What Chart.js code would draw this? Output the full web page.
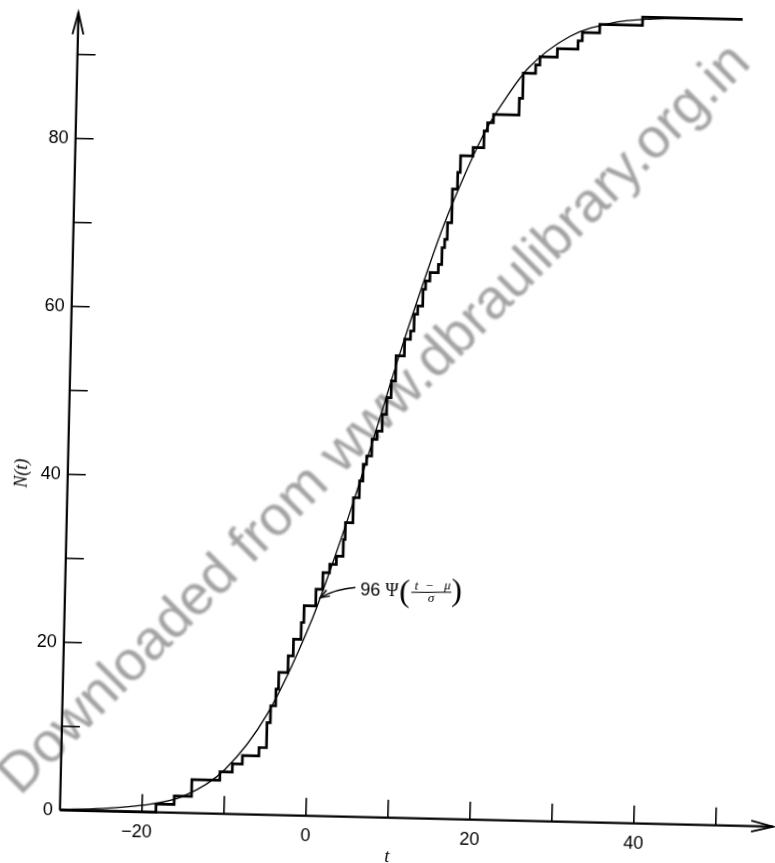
<!DOCTYPE html>
<html>
<head>
<meta charset="utf-8">
<title>N(t)</title>
<script src="https://cdn.jsdelivr.net/npm/chart.js"></script>
<style>
    html, body {
        margin: 0;
        padding: 0;
        width: 775px;
        height: 863px;
        overflow: hidden;
        background: #fff;
    }
    /* the printed page sits slightly skewed */
    .sheet {
        position: absolute;
        left: -10px;
        top: -10px;
        width: 800px;
        height: 885px;
        transform: rotate(1.33deg);
        transform-origin: 50% 50%;
    }
</style>
</head>
<body>
<div class="sheet"><canvas id="cdf" width="800" height="885"></canvas></div>

<script>
    // cumulative count N(t): time of each jump and the level reached after it
    const stepT = [-30, -18.3, -16.1, -14.0, -10.6, -9.1, -7.9, -5.9, -5.0, -4.6,
                   -4.0, -3.7, -2.6, -2.0, -1.1, -0.8, 0.6, 1.4, 2.2, 3.0,
                   3.8, 4.0, 4.9, 5.6, 6.0, 6.4, 7.0, 7.6, 8.2, 8.7,
                   9.2, 9.7, 10.7, 11.4, 11.8, 12.2, 12.8, 13.1, 13.6, 14.6,
                   15.0, 15.3, 15.6, 16.1, 16.7, 17.0, 18.5, 19.8, 20.2, 20.9,
                   24.0, 24.4, 25.9, 26.4, 28.5, 31.0, 31.5, 33.6, 38.8, 51];
    const stepN = [0, 1, 2, 4, 5, 6, 7, 8, 11, 13,
                   15, 17, 19, 21, 23, 25, 27, 29, 30, 31,
                   33, 35, 38, 40, 42, 43, 45, 46, 48, 50,
                   52, 55, 57, 58, 60, 61, 63, 64, 65, 66,
                   68, 69, 71, 75, 77, 79, 80, 82, 83, 84,
                   86, 89, 90, 91, 92, 93, 94, 95, 96, 96];

    // smooth fitted curve 96 Ψ((t − μ)/σ)
    const curveT = [-30, -25, -20, -15, -10, -5, 0, 2.5, 5, 7.5, 10, 12.5,
                    15, 17.5, 20, 22.5, 25, 30, 35, 40, 45, 51];
    const curveN = [0.1, 0.3, 0.8, 2.0, 5.3, 12.0, 22.9, 30.0, 37.8, 46.2, 54.8, 62.8,
                    70.3, 76.6, 82.1, 86.2, 89.6, 93.5, 95.2, 95.8, 96.0, 96.0];

    const xTickMarks = [-20, -10, 0, 10, 20, 30, 40, 50];
    const xTickLabels = [-20, 0, 20, 40];
    const yTickMarks = [10, 20, 30, 40, 50, 60, 70, 80, 90];
    const yTickLabels = [0, 20, 40, 60, 80];

    const X_MIN = -30, X_MAX = 57;
    const Y_MIN = 0, Y_MAX = 95;

    // where the curve label's arrow lands
    const annoT = 1.0, annoN = 26;

    const NUM_FONT = '"Liberation Sans", Arial, sans-serif';
    const MATH_FONT = '"Liberation Serif", "DejaVu Serif", serif';

    // background stamp
    const stamp = {
        id: 'stamp',
        beforeDatasetsDraw(chart) {
            const ctx = chart.ctx;
            ctx.save();
            ctx.translate(385, 430);
            ctx.rotate(-46.3 * Math.PI / 180);
            ctx.filter = 'blur(1.2px)';
            ctx.fillStyle = '#a2a2a2';
            ctx.font = '56px ' + NUM_FONT;
            ctx.textAlign = 'center';
            ctx.textBaseline = 'middle';
            ctx.fillText('Downloaded from www.dbraulibrary.org.in', 0, 0);
            ctx.restore();
        }
    };

    // axes with arrow heads and inward tick marks
    const axes = {
        id: 'axes',
        afterDatasetsDraw(chart) {
            const { ctx, scales: { x, y } } = chart;
            const x0 = x.getPixelForValue(X_MIN);
            const x1 = x.getPixelForValue(X_MAX);
            const y0 = y.getPixelForValue(Y_MIN);
            const y1 = y.getPixelForValue(Y_MAX);
            ctx.save();
            ctx.strokeStyle = '#000';
            ctx.lineCap = 'butt';

            ctx.lineWidth = 2.2;
            ctx.beginPath();
            ctx.moveTo(x0, y0);
            ctx.lineTo(x1, y0);
            ctx.moveTo(x0, y0);
            ctx.lineTo(x0, y1);
            ctx.stroke();

            // arrow heads
            ctx.lineWidth = 1.8;
            ctx.beginPath();
            ctx.moveTo(x0 - 5.5, y1 + 22);
            ctx.lineTo(x0, y1);
            ctx.lineTo(x0 + 5.5, y1 + 22);
            ctx.moveTo(x1 - 22, y0 - 5.5);
            ctx.lineTo(x1, y0);
            ctx.lineTo(x1 - 22, y0 + 5.5);
            ctx.stroke();

            // tick marks
            ctx.lineWidth = 1.6;
            ctx.beginPath();
            xTickMarks.forEach(v => {
                const px = x.getPixelForValue(v);
                ctx.moveTo(px, y0);
                ctx.lineTo(px, y0 - 18);
            });
            yTickMarks.forEach(v => {
                const py = y.getPixelForValue(v);
                ctx.moveTo(x0, py);
                ctx.lineTo(x0 + 18, py);
            });
            ctx.stroke();

            // axis names
            ctx.fillStyle = '#000';
            ctx.font = 'italic 18px ' + MATH_FONT;
            ctx.textAlign = 'center';
            ctx.textBaseline = 'middle';
            ctx.save();
            ctx.translate(x0 - 46, y.getPixelForValue(40));
            ctx.rotate(-Math.PI / 2);
            ctx.fillText('N(t)', 0, 0);
            ctx.restore();
            ctx.textBaseline = 'alphabetic';
            ctx.fillText('t', x.getPixelForValue(10), y0 + 44);
            ctx.restore();
        }
    };

    // label of the fitted curve with its leader arrow
    const curveLabel = {
        id: 'curveLabel',
        afterDatasetsDraw(chart) {
            const { ctx, scales: { x, y } } = chart;
            const px = x.getPixelForValue(annoT);
            const py = y.getPixelForValue(annoN);
            ctx.save();
            ctx.strokeStyle = '#000';
            ctx.fillStyle = '#000';
            ctx.lineWidth = 1.4;

            const cx = px + 16, cy = py - 9;
            ctx.beginPath();
            ctx.moveTo(px + 36, py - 11);
            ctx.quadraticCurveTo(cx, cy, px + 1, py);
            ctx.stroke();
            const a = Math.atan2(py - cy, px + 1 - cx);
            ctx.beginPath();
            ctx.moveTo(px + 1 - 10 * Math.cos(a - 0.35), py - 10 * Math.sin(a - 0.35));
            ctx.lineTo(px + 1, py);
            ctx.lineTo(px + 1 - 10 * Math.cos(a + 0.35), py - 10 * Math.sin(a + 0.35));
            ctx.stroke();

            ctx.textBaseline = 'alphabetic';
            ctx.textAlign = 'left';
            ctx.font = '18px ' + NUM_FONT;
            ctx.fillText('96', px + 41, py - 3);
            ctx.font = '18px ' + MATH_FONT;
            ctx.fillText('\u03A8', px + 66, py - 3.5);

            ctx.font = '32px ' + MATH_FONT;
            ctx.textBaseline = 'middle';
            ctx.fillText('(', px + 80, py - 7);
            ctx.fillText(')', px + 132, py - 9);

            ctx.textAlign = 'center';
            ctx.textBaseline = 'alphabetic';
            ctx.font = 'italic 13px ' + MATH_FONT;
            ctx.fillText('t', px + 97, py - 10.5);
            ctx.fillText('\u2212', px + 110, py - 10.5);
            ctx.fillText('\u03BC', px + 128, py - 11);
            ctx.fillText('\u03C3', px + 112, py + 2);
            ctx.lineWidth = 1;
            ctx.beginPath();
            ctx.moveTo(px + 92, py - 7.5);
            ctx.lineTo(px + 132, py - 8.5);
            ctx.stroke();
            ctx.restore();
        }
    };

    const ctx = document.getElementById('cdf').getContext('2d');
    new Chart(ctx, {
        type: 'line',
        data: {
            datasets: [{
                data: stepT.map((t, i) => ({ x: t, y: stepN[i] })),
                stepped: true,
                borderColor: '#000',
                borderWidth: 2.7,
                pointRadius: 0,
                fill: false,
                clip: false
            }, {
                data: curveT.map((t, i) => ({ x: t, y: curveN[i] })),
                cubicInterpolationMode: 'monotone',
                borderColor: '#000',
                borderWidth: 1.3,
                pointRadius: 0,
                fill: false,
                clip: false
            }]
        },
        options: {
            responsive: false,
            animation: false,
            devicePixelRatio: 1,
            events: [],
            layout: {
                padding: { left: 0, right: 7.8, top: 29.7, bottom: 0 }
            },
            plugins: {
                legend: { display: false },
                tooltip: { enabled: false }
            },
            scales: {
                x: {
                    type: 'linear',
                    min: X_MIN,
                    max: X_MAX,
                    afterFit: s => { s.height = 57.3; },
                    afterBuildTicks: s => { s.ticks = xTickLabels.map(v => ({ value: v })); },
                    grid: { display: false, drawTicks: false },
                    border: { display: false },
                    ticks: {
                        autoSkip: false,
                        maxRotation: 0,
                        padding: 10,
                        color: '#000',
                        font: { family: NUM_FONT, size: 18 },
                        callback: v => v < 0 ? '\u2212' + Math.abs(v) + '\u2007' : String(v)
                    }
                },
                y: {
                    type: 'linear',
                    min: Y_MIN,
                    max: Y_MAX,
                    afterFit: s => { s.width = 78.8; },
                    afterBuildTicks: s => { s.ticks = yTickLabels.map(v => ({ value: v })); },
                    grid: { display: false, drawTicks: false },
                    border: { display: false },
                    ticks: {
                        autoSkip: false,
                        padding: 7,
                        color: '#000',
                        font: { family: NUM_FONT, size: 18 },
                        callback: v => String(v)
                    }
                }
            }
        },
        plugins: [stamp, axes, curveLabel]
    });
</script>
</body>
</html>
